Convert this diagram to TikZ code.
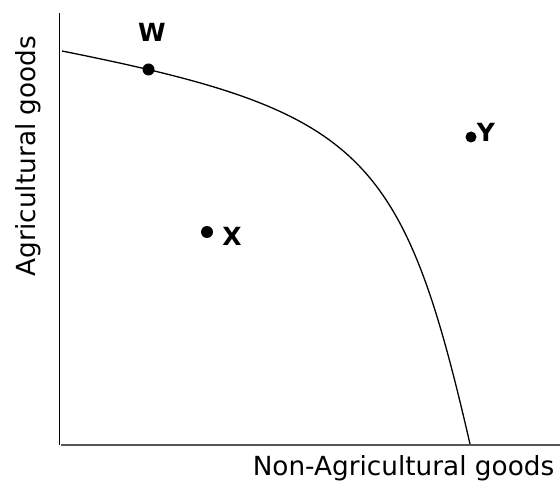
\documentclass[tikz,border=0pt]{standalone}
\usepackage{fontspec}
\setmainfont{DejaVu Sans}
\begin{document}
\begin{tikzpicture}[x=1pt,y=-1pt,
  dotpt/.style={circle,fill=black,inner sep=0pt,minimum size=#1},
  ptlabel/.style={font=\fontsize{25}{29}\selectfont\bfseries,inner sep=0pt},
  axlabel/.style={font=\fontsize{26.3}{30}\selectfont,inner sep=0pt}]
\useasboundingbox (0,0) rectangle (560,481);
\coordinate (ytop) at (59.5,13);
\coordinate (yorig) at (59.5,444.5);
\coordinate (xorig) at (61,444.7);
\coordinate (xend) at (560,444.7);
\coordinate (cs) at (62,51);
\coordinate (ce) at (470,444);
\draw[line width=1.5pt,black] (ytop) -- (yorig);
\draw[line width=2.3pt,color={rgb,255:red,85;green,85;blue,85}] (xorig) -- (xend);
\draw[line width=1.3pt] (cs) .. controls (362,111) and (402.5,150.6) .. (ce);
\node[dotpt=12pt] (w) at (148.5,69.5) {};
\node[dotpt=12pt] (x) at (207,232) {};
\node[dotpt=11pt] (y) at (471,137) {};
\node[ptlabel] (wl) at (152,32) {W};
\node[ptlabel] (xl) at (232,236) {X};
\node[ptlabel] (yl) at (486,132) {Y};
\node[axlabel,rotate=90] (al) at (28,156) {Agricultural goods};
\node[axlabel] (nl) at (403.5,468) {Non-Agricultural goods};
\end{tikzpicture}
\end{document}
